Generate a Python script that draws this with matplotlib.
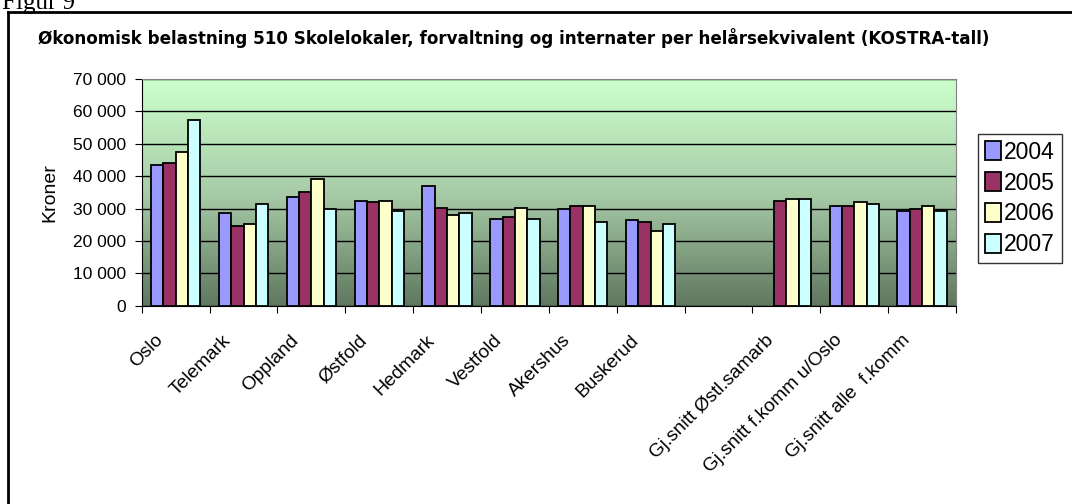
import numpy as np
import matplotlib
matplotlib.use("Agg")
import matplotlib.pyplot as plt
import matplotlib.transforms as mtransforms
from matplotlib.colors import LinearSegmentedColormap
from matplotlib.lines import Line2D
from matplotlib.ticker import FuncFormatter

plt.rcParams['font.family'] = ['Liberation Sans', 'DejaVu Sans']

categories = ["Oslo", "Telemark", "Oppland", "Østfold", "Hedmark", "Vestfold",
              "Akershus", "Buskerud", "", "Gj.snitt Østl.samarb",
              "Gj.snitt f.komm u/Oslo", "Gj.snitt alle  f.komm"]
years = ["2004", "2005", "2006", "2007"]
v2004 = [43400, 28600, 33600, 32400, 36900, 26900, 29700, 26400, np.nan, np.nan, 30800, 29100]
v2005 = [44000, 24700, 35200, 31900, 30200, 27500, 30800, 25700, np.nan, 32400, 30800, 29700]
v2006 = [47300, 25300, 39100, 32400, 28100, 30300, 30800, 23100, np.nan, 33000, 31900, 30800]
v2007 = [57300, 31400, 29700, 29100, 28600, 26900, 25800, 25300, np.nan, 33000, 31400, 29100]
series = [v2004, v2005, v2006, v2007]
colors = ["#9999FF", "#993366", "#FFFFCC", "#CCFFFF"]

fig = plt.figure(figsize=(10.72, 5.04), dpi=100)
ax = fig.add_axes([0.1322, 0.3935, 0.8918 - 0.1322, 0.8433 - 0.3935])

# gradient background, light on top
cmap = LinearSegmentedColormap.from_list("bg", ["#CCFFCC", "#A8CCA8", "#5F775F"])
grad = np.linspace(0, 1, 256).reshape(-1, 1)
ax.imshow(grad, aspect="auto", cmap=cmap, extent=[-0.5, 11.5, 0, 70000], zorder=0)

x = np.arange(len(categories))
w = 1 / 5.5
for i, (vals, c, lab) in enumerate(zip(series, colors, years)):
    ax.bar(x + (i - 1.5) * w, vals, w, color=c, edgecolor="black",
           linewidth=1.3, label=lab, zorder=3)

ax.set_xlim(-0.5, 11.5)
ax.set_ylim(0, 70000)
ax.set_yticks(np.arange(0, 70001, 10000))
ax.yaxis.set_major_formatter(FuncFormatter(lambda v, p: f"{int(v):,}".replace(",", " ")))
ax.grid(axis="y", color="black", linewidth=1, zorder=1)
ax.set_axisbelow(True)

# ticks between groups, category names drawn as rotated texts
ax.set_xticks(np.arange(-0.5, 12, 1))
ax.set_xticklabels([])
ax.tick_params(axis="x", length=5, direction="out", color="black")
base = ax.get_xaxis_transform()
offset = mtransforms.ScaledTranslation(-21 / 100, -26 / 100, fig.dpi_scale_trans)
for xi, name in zip(x, categories):
    ax.text(xi, 0, name, transform=base + offset, rotation=45, ha="right", va="top",
            rotation_mode="anchor", fontsize=13.8)

ax.tick_params(axis="y", length=5, direction="out", labelsize=12.5, pad=6)
ax.set_ylabel("Kroner", fontsize=14, labelpad=11)

for s in ["top", "right"]:
    ax.spines[s].set_color("#808080")
ax.spines["left"].set_color("black")
ax.spines["bottom"].set_color("black")

leg = ax.legend(loc="upper left", bbox_to_anchor=(978 / 1072, 1 - 134 / 504),
                bbox_transform=fig.transFigure, fontsize=16.5, frameon=True, fancybox=False,
                edgecolor="black", handlelength=0.7, handleheight=0.9, handletextpad=0.15,
                labelspacing=0.34, borderpad=0.3, borderaxespad=0)
leg.get_frame().set_linewidth(1)

fig.text(38 / 1072, 1 - 38 / 504, "Økonomisk belastning 510 Skolelokaler, forvaltning og internater per helårsekvivalent (KOSTRA-tall)",
         fontsize=12.1, fontweight="bold", va="center", ha="left", family="DejaVu Sans")
fig.text(2 / 1072, 1 - 9 / 504, "Figur 9", fontsize=18, family="Liberation Serif", va="baseline")

fig.add_artist(Line2D([8 / 1072, 1], [1 - 12 / 504, 1 - 12 / 504], color="black", linewidth=2))
fig.add_artist(Line2D([8 / 1072, 8 / 1072], [0, 1 - 12 / 504], color="black", linewidth=2))

fig.savefig("out.png", dpi=100)
